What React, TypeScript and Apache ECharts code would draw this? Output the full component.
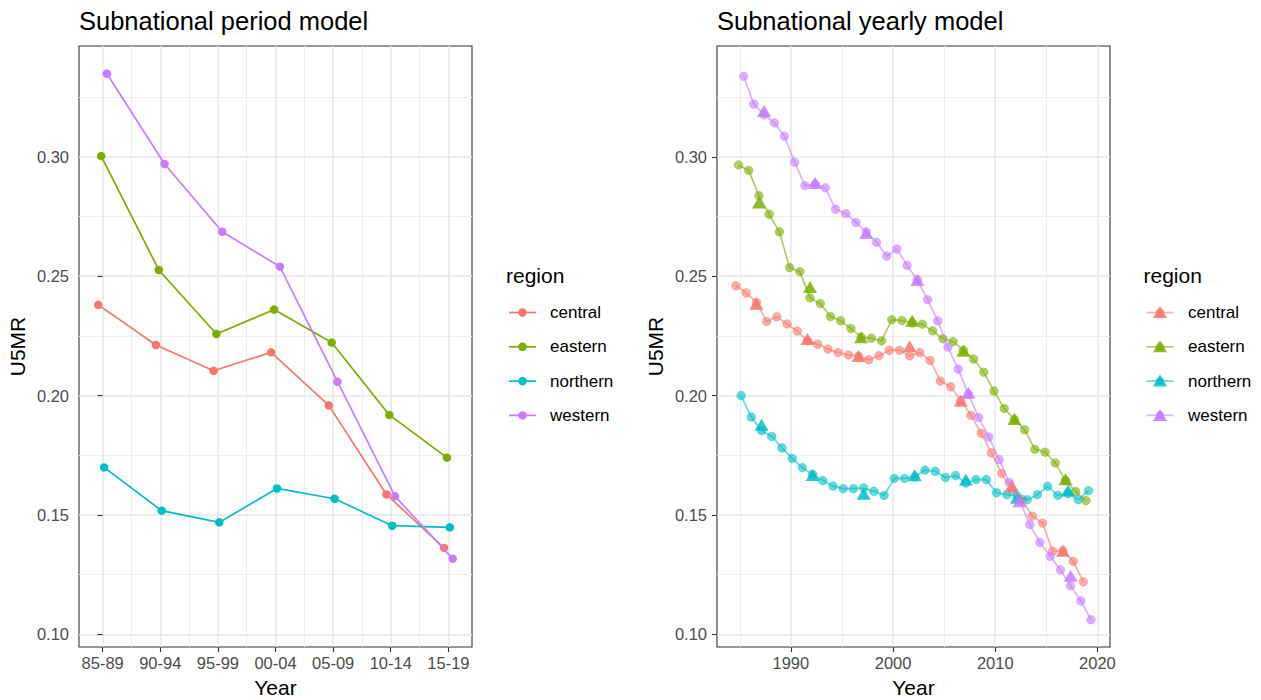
import React, { useEffect, useRef } from "react";
import * as echarts from "echarts";

// ---------- data ----------
const regions = ["central", "eastern", "northern", "western"];

const periods = ["85-89", "90-94", "95-99", "00-04", "05-09", "10-14", "15-19"];
const periodCentral = [0.238, 0.2212, 0.2104, 0.2181, 0.1959, 0.1586, 0.1362];
const periodEastern = [0.3003, 0.2526, 0.2258, 0.236, 0.2222, 0.1919, 0.174];
const periodNorthern = [0.1699, 0.1518, 0.1469, 0.1611, 0.1568, 0.1455, 0.1448];
const periodWestern = [0.3348, 0.297, 0.2686, 0.254, 0.2058, 0.1578, 0.1317];

const years = [
  1985, 1986, 1987, 1988, 1989, 1990, 1991, 1992, 1993, 1994, 1995, 1996,
  1997, 1998, 1999, 2000, 2001, 2002, 2003, 2004, 2005, 2006, 2007, 2008,
  2009, 2010, 2011, 2012, 2013, 2014, 2015, 2016, 2017, 2018, 2019,
];
const yearlyCentral = [
  0.246, 0.243, 0.239, 0.231, 0.233, 0.23, 0.227, 0.223, 0.2215, 0.2195,
  0.218, 0.217, 0.2165, 0.215, 0.2167, 0.219, 0.219, 0.2166, 0.218, 0.2147,
  0.2061, 0.2037, 0.198, 0.1917, 0.1842, 0.176, 0.1674, 0.1606, 0.1565,
  0.1495, 0.1466, 0.1348, 0.135, 0.1306, 0.122,
];
const yearlyEastern = [
  0.2966, 0.2943, 0.2837, 0.2759, 0.2686, 0.2536, 0.2519, 0.2409, 0.2385,
  0.2331, 0.2313, 0.2281, 0.2245, 0.224, 0.2229, 0.2318, 0.2314, 0.2304,
  0.2299, 0.2271, 0.2238, 0.2226, 0.219, 0.2153, 0.2098, 0.2019, 0.1946,
  0.19, 0.1857, 0.1775, 0.1763, 0.1718, 0.1645, 0.1598, 0.156,
];
const yearlyNorthern = [
  0.2, 0.191, 0.1853, 0.1829, 0.1781, 0.1737, 0.1698, 0.167, 0.1644, 0.1621,
  0.161, 0.161, 0.1613, 0.1599, 0.1582, 0.1653, 0.1653, 0.166, 0.1688,
  0.1683, 0.1657, 0.1665, 0.1634, 0.1648, 0.1648, 0.1593, 0.1585, 0.158,
  0.1564, 0.1585, 0.162, 0.1582, 0.159, 0.1564, 0.1602,
];
const yearlyWestern = [
  0.3337, 0.3221, 0.3176, 0.3142, 0.3086, 0.2977, 0.2879, 0.2885, 0.287,
  0.278, 0.2762, 0.2725, 0.2685, 0.2642, 0.2584, 0.2614, 0.2545, 0.2485,
  0.2402, 0.2313, 0.2203, 0.2111, 0.2005, 0.1908, 0.1827, 0.1732, 0.1636,
  0.156, 0.146, 0.1385, 0.1327, 0.127, 0.1203, 0.114, 0.1061,
];

const midYears = [1987, 1992, 1997, 2002, 2007, 2012, 2017];
const triCentral = [0.2385, 0.2237, 0.2166, 0.2207, 0.1978, 0.1622, 0.135];
const triEastern = [0.2809, 0.2455, 0.2244, 0.2313, 0.2188, 0.1902, 0.165];
const triNorthern = [0.1878, 0.1667, 0.1589, 0.1666, 0.1648, 0.1572, 0.1602];
const triWestern = [0.3192, 0.289, 0.2681, 0.2484, 0.2012, 0.1557, 0.1245];

const yTicks = [0.1, 0.15, 0.2, 0.25, 0.3];
const yMinorTicks = [0.125, 0.175, 0.225, 0.275, 0.325];
const periodTicks = [0, 1, 2, 3, 4, 5, 6];
const periodMinorTicks = [0.5, 1.5, 2.5, 3.5, 4.5, 5.5];
const yearTicks = [1990, 2000, 2010, 2020];
const yearMinorTicks = [1985, 1995, 2005, 2015];

// ---------- styles ----------
const colors = ["#F8766D", "#7CAE00", "#00BFC4", "#C77CFF"];
const periodDodge = [-0.075, -0.025, 0.025, 0.075];
const yearDodge = [-0.375, -0.125, 0.125, 0.375];
const FONT = '"Liberation Sans", Arial, Helvetica, sans-serif';
const Y_MIN = 0.0947;
const Y_MAX = 0.3464;
const GRID_MAJOR = "#E6E6E6";
const GRID_MINOR = "#EDEDED";
const INK = "#333333";
const TICK_TEXT = "#4D4D4D";

const periodSeries = [periodCentral, periodEastern, periodNorthern, periodWestern];
const yearlySeries = [yearlyCentral, yearlyEastern, yearlyNorthern, yearlyWestern];
const triSeries = [triCentral, triEastern, triNorthern, triWestern];

function majorAxis(gridIndex: number, min: number, max: number, ticks: number[], fmt: (v: number) => string, isX: boolean) {
  return {
    type: "value",
    gridIndex,
    min,
    max,
    position: isX ? "bottom" : "left",
    axisLine: { show: false },
    axisTick: { show: true, length: 5, lineStyle: { color: INK, width: 1.1 }, customValues: ticks },
    axisLabel: {
      show: true,
      customValues: ticks,
      formatter: fmt,
      color: TICK_TEXT,
      fontSize: 16.5,
      fontFamily: FONT,
      margin: isX ? 7 : 10,
    },
    splitLine: { show: true, lineStyle: { color: GRID_MAJOR, width: 1.5 } },
    minorSplitLine: { show: false },
  };
}

function minorAxis(gridIndex: number, min: number, max: number, ticks: number[], isX: boolean) {
  return {
    type: "value",
    gridIndex,
    min,
    max,
    position: isX ? "top" : "right",
    axisLine: { show: false },
    axisTick: { show: false, customValues: ticks },
    axisLabel: { show: false, customValues: ticks },
    splitLine: { show: true, lineStyle: { color: GRID_MINOR, width: 1 } },
  };
}

function text(x: number, y: number, s: string, size: number, align: string, fill = "#000", rotation = 0) {
  return {
    type: "text",
    x,
    y,
    rotation,
    silent: true,
    style: {
      text: s,
      fontSize: size,
      fontFamily: FONT,
      fill,
      textAlign: align,
      textVerticalAlign: "middle",
      align,
      verticalAlign: "middle",
    },
  };
}

function buildOption() {
  const fmtY = (v: number) => v.toFixed(2);
  const fmtPeriod = (v: number) => periods[Math.round(v)] ?? "";
  const fmtYear = (v: number) => String(Math.round(v));

  const series: any[] = [];
  // left panel: lines then points
  regions.forEach((r, k) => {
    series.push({
      type: "line",
      name: r,
      xAxisIndex: 0,
      yAxisIndex: 0,
      symbol: "none",
      silent: true,
      data: periodSeries[k].map((v, i) => [periodTicks[i] + periodDodge[k], v]),
      lineStyle: { color: colors[k], width: 1.7 },
      itemStyle: { color: colors[k] },
    });
  });
  regions.forEach((r, k) => {
    series.push({
      type: "scatter",
      name: r,
      xAxisIndex: 0,
      yAxisIndex: 0,
      symbol: "circle",
      symbolSize: 8.5,
      silent: true,
      data: periodSeries[k].map((v, i) => [periodTicks[i] + periodDodge[k], v]),
      itemStyle: { color: colors[k], opacity: 1 },
    });
  });
  // right panel: lines, circles, triangles
  regions.forEach((r, k) => {
    series.push({
      type: "line",
      name: r,
      xAxisIndex: 2,
      yAxisIndex: 2,
      symbol: "none",
      silent: true,
      data: yearlySeries[k].map((v, i) => [years[i] + yearDodge[k], v]),
      lineStyle: { color: colors[k], width: 1.7, opacity: 0.6 },
      itemStyle: { color: colors[k] },
    });
  });
  regions.forEach((r, k) => {
    series.push({
      type: "scatter",
      name: r,
      xAxisIndex: 2,
      yAxisIndex: 2,
      symbol: "circle",
      symbolSize: 8.5,
      silent: true,
      data: yearlySeries[k].map((v, i) => [years[i] + yearDodge[k], v]),
      itemStyle: { color: colors[k], opacity: 0.6, borderColor: colors[k], borderWidth: 0.8 },
    });
  });
  regions.forEach((r, k) => {
    series.push({
      type: "scatter",
      name: r + " period",
      xAxisIndex: 2,
      yAxisIndex: 2,
      symbol: "triangle",
      symbolSize: [14, 12],
      silent: true,
      data: triSeries[k].map((v, i) => [midYears[i] + yearDodge[k], v]),
      itemStyle: { color: colors[k], opacity: 0.85 },
    });
  });

  const graphic: any[] = [
    text(79, 21, "Subnational period model", 25.5, "left"),
    text(717, 21, "Subnational yearly model", 25.5, "left"),
    text(275.5, 687, "Year", 21, "center"),
    text(913.5, 687, "Year", 21, "center"),
    text(17.5, 346.5, "U5MR", 21, "center", "#000", Math.PI / 2),
    text(655, 346.5, "U5MR", 21, "center", "#000", Math.PI / 2),
    text(506, 275, "region", 21, "left"),
    text(1143.5, 275, "region", 21, "left"),
  ];
  regions.forEach((r, k) => {
    const y = 312.5 + k * 34.3;
    // left legend key
    graphic.push({
      type: "line",
      silent: true,
      shape: { x1: 509, y1: y, x2: 536, y2: y },
      style: { stroke: colors[k], lineWidth: 1.7 },
    });
    graphic.push({
      type: "circle",
      silent: true,
      shape: { cx: 522.5, cy: y, r: 4.25 },
      style: { fill: colors[k] },
    });
    graphic.push(text(550, y, r, 17, "left"));
    // right legend key
    graphic.push({
      type: "line",
      silent: true,
      shape: { x1: 1146.5, y1: y, x2: 1173.5, y2: y },
      style: { stroke: colors[k], lineWidth: 1.7, opacity: 0.6 },
    });
    graphic.push({
      type: "circle",
      silent: true,
      shape: { cx: 1160, cy: y, r: 4.25 },
      style: { fill: colors[k], opacity: 0.6 },
    });
    graphic.push({
      type: "polygon",
      silent: true,
      shape: { points: [[1160, y - 6.5], [1153, y + 5.5], [1167, y + 5.5]] },
      style: { fill: colors[k], opacity: 0.85 },
    });
    graphic.push(text(1188, y, r, 17, "left"));
  });

  return {
    animation: false,
    backgroundColor: "#ffffff",
    textStyle: { fontFamily: FONT },
    grid: [
      { left: 79, top: 46, width: 393, height: 601, show: true, borderColor: INK, borderWidth: 1.1, backgroundColor: "transparent", containLabel: false, outerBoundsMode: "none" },
      { left: 717, top: 46, width: 393, height: 601, show: true, borderColor: INK, borderWidth: 1.1, backgroundColor: "transparent", containLabel: false, outerBoundsMode: "none" },
    ],
    xAxis: [
      majorAxis(0, -0.41, 6.41, periodTicks, fmtPeriod, true),
      minorAxis(0, -0.41, 6.41, periodMinorTicks, true),
      majorAxis(1, 1982.77, 2021.23, yearTicks, fmtYear, true),
      minorAxis(1, 1982.77, 2021.23, yearMinorTicks, true),
    ],
    yAxis: [
      majorAxis(0, Y_MIN, Y_MAX, yTicks, fmtY, false),
      minorAxis(0, Y_MIN, Y_MAX, yMinorTicks, false),
      majorAxis(1, Y_MIN, Y_MAX, yTicks, fmtY, false),
      minorAxis(1, Y_MIN, Y_MAX, yMinorTicks, false),
    ],
    series,
    graphic,
  };
}

export default function App() {
  const ref = useRef<HTMLDivElement>(null);
  useEffect(() => {
    if (!ref.current) return;
    const chart = echarts.init(ref.current, null, { renderer: "svg" });
    chart.setOption(buildOption() as any);
    return () => chart.dispose();
  }, []);
  return (
    <div
      ref={ref}
      style={{ position: "fixed", left: 0, top: 0, width: 1261, height: 700, background: "#fff" }}
    />
  );
}
